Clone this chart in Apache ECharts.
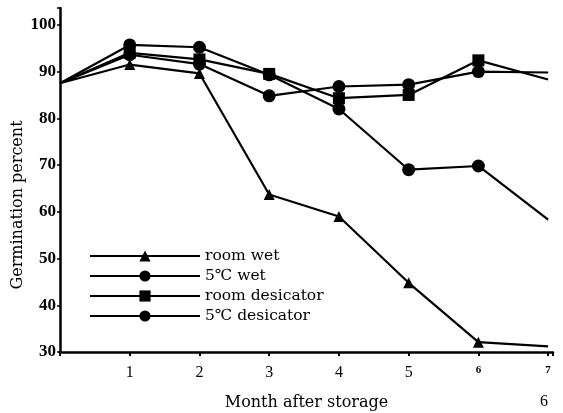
<!DOCTYPE html>
<html><head><meta charset="utf-8">
<script src="https://cdn.jsdelivr.net/npm/echarts@6/dist/echarts.min.js"></script>
<style>html,body{margin:0;padding:0;background:#fff}#c{width:563px;height:413px}</style>
</head><body><div id="c"></div>
<script>
var months = [0, 1, 2, 3, 4, 5, 6, 7];
var xTickLabels = ['1', '2', '3', '4', '5', '6', '7'];
var yTickLabels = ['30', '40', '50', '60', '70', '80', '90', '100'];
var seriesNames = ['room wet', '5\u2103 wet', 'room desicator', '5\u2103 desicator'];
var roomWet = [87.5, 91.5, 89.6, 63.7, 59.0, 44.8, 32.1, 31.2];
var c5Wet = [87.5, 95.7, 95.2, 89.3, 82.0, 69.0, 69.8, 58.3];
var roomDes = [87.5, 94.0, 92.6, 89.5, 84.3, 85.0, 92.4, 88.3];
var c5Des = [87.5, 93.6, 91.6, 84.8, 86.8, 87.2, 90.0, 89.8];
var yAxisTitle = 'Germination percent';
var xAxisTitle = 'Month after storage';

var font = 'Liberation Serif';
var font2 = 'DejaVu Serif';
function mk(name, data, symbol, size) {
  return {
    name: name, type: 'line', symbol: symbol, symbolSize: size,
    data: months.map(function (m, i) {
      var d = { value: [m, data[i]] };
      if (i === 0 || i === months.length - 1) d.symbol = 'none';
      return d;
    }),
    lineStyle: { color: '#000', width: 2.2 },
    itemStyle: { color: '#000' },
    animation: false
  };
}
var chart = echarts.init(document.getElementById('c'), null, { renderer: 'canvas' });
chart.setOption({
  animation: false,
  backgroundColor: '#fff',
  grid: { left: 60, right: 10, top: 8, bottom: 61, containLabel: false, outerBoundsMode: 'none' },
  legend: {
    orient: 'vertical', left: 84, top: 243, itemWidth: 110, itemHeight: 14, itemGap: 4,
    textStyle: { fontFamily: font2, fontSize: 15.5, color: '#000' },
    data: seriesNames
  },
  xAxis: {
    type: 'value', min: 0, max: 7.07, interval: 1,
    name: xAxisTitle, nameLocation: 'middle', nameGap: 43,
    nameTextStyle: { fontFamily: font2, fontSize: 16, color: '#000' },
    axisLine: { lineStyle: { color: '#000', width: 2.5 } },
    axisTick: { length: 4, lineStyle: { color: '#000', width: 2 } },
    splitLine: { show: false },
    axisLabel: {
      margin: 13, color: '#000', fontFamily: font, fontSize: 16,
      formatter: function (v) {
        if (v < 1 || Math.abs(v - Math.round(v)) > 1e-6) return '';
        var s = xTickLabels[Math.round(v) - 1];
        return v >= 6 ? '{s|' + s + '}' : s;
      },
      rich: { s: { fontFamily: font, fontSize: 11, fontWeight: 'bold', color: '#000', padding: [0, 0, 8, 0] } }
    }
  },
  yAxis: {
    type: 'value', min: 30, max: 103.6, interval: 10,
    axisLine: { show: true, lineStyle: { color: '#000', width: 2.5 } },
    axisTick: { show: true, length: 3, lineStyle: { color: '#000', width: 1.5 } },
    splitLine: { show: false },
    axisLabel: {
      margin: 4, color: '#000', fontFamily: font, fontSize: 17, fontWeight: 'bold',
      formatter: function (v) {
        var i = Math.round((v - 30) / 10);
        if (Math.abs(v - (30 + i * 10)) > 1e-6 || i < 0 || i >= yTickLabels.length) return '';
        return yTickLabels[i];
      }
    }
  },
  graphic: [{
    type: 'text', x: 18, y: 205, rotation: Math.PI / 2,
    style: { text: yAxisTitle, fontFamily: font2, fontSize: 16, fill: '#000', align: 'center', verticalAlign: 'middle' }
  }, {
    type: 'text', left: 540, top: 394,
    style: { text: '6', fontFamily: font, fontSize: 16, fill: '#000' }
  }],
  series: [
    mk(seriesNames[0], roomWet, 'triangle', 11),
    mk(seriesNames[1], c5Wet, 'circle', 13),
    mk(seriesNames[3], c5Des, 'circle', 13),
    mk(seriesNames[2], roomDes, 'rect', 12)
  ]
});
</script></body></html>
